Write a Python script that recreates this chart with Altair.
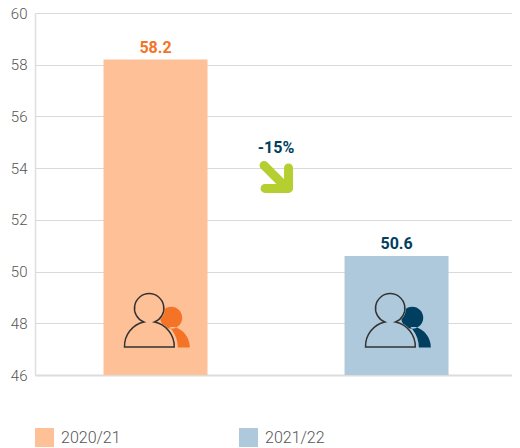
import altair as alt
import pandas as pd

periods = ["2020/21", "2021/22"]
values = [58.2, 50.6]
labels = ["58.2", "50.6"]
positions = [0.5, 1.5]
pale = ["#fdc097", "#aec9db"]
strong = ["#f47327", "#003f5f"]
y_ticks = [46, 48, 50, 52, 54, 56, 58, 60]
y_floor = 46
icon_level = 47.74
change_label = "-15%"
change_x = 1.0
change_label_y = 54.47
arrow_y = 53.66
x_end = 1.979

FRONT = "M-31,17A24.8,24.8 0 0 1 -11.7,-8A14.7,14.7 0 1 1 -1,-8A24.8,24.8 0 0 1 18.7,17Z"
BACK = ("M15.7,-23.3A11,11 0 1 1 15.7,-1.3A11,11 0 1 1 15.7,-23.3Z"
        "M22.3,17.5H34.3A21,21 0 0 0 19,-3L14,-3L16.4,0A28.3,28.3 0 0 1 22.3,17.5Z")
ARROW = "M-12,-11.5L10,10.5M12.5,-9V11.5H-11"

FONT = "Roboto"
df = pd.DataFrame({"period": periods, "value": values, "label": labels, "pos": positions,
                   "pale": pale, "strong": strong, "icon": [icon_level] * 2, "floor": [y_floor] * 2})
note = pd.DataFrame({"x": [change_x], "ly": [change_label_y], "ay": [arrow_y], "t": [change_label]})

xs = alt.Scale(domain=[0, x_end], padding=0, nice=False, zero=False)
ys = alt.Scale(domain=[46, 60], padding=0, nice=False, zero=False)
x = alt.X("pos:Q", scale=xs, axis=alt.Axis(
    title=None, labels=False, ticks=False, grid=False, domain=True,
    domainColor="#dcdcdc", domainWidth=2))
y = alt.Y("value:Q", scale=ys, axis=alt.Axis(
    title=None, values=y_ticks, ticks=False, grid=True, gridColor="#d9d9d9", gridWidth=1,
    domain=True, domainColor="#dedede", domainWidth=1.5, labelPadding=8, labelFont=FONT,
    labelFontSize=15, labelColor="#555555", labelFontWeight=300))
px = alt.X("pos:Q", scale=xs)
base = alt.Chart(df)

bars = base.mark_bar(size=104).encode(
    x=x, y=y, y2="floor:Q",
    color=alt.Color("period:N", scale=alt.Scale(domain=periods, range=pale), legend=alt.Legend(
        title=None, orient="none", legendX=0, legendY=415, direction="horizontal", columns=2,
        symbolType="square", symbolSize=361, symbolStrokeWidth=0, symbolOpacity=1,
        labelFont=FONT, labelFontSize=16, labelColor="#555555", labelFontWeight=300,
        columnPadding=118, labelOffset=7, padding=0)),
)
text = base.mark_text(font=FONT, fontSize=16, fontWeight="bold", baseline="bottom", dy=-4).encode(
    x=px, y=alt.Y("value:Q", scale=ys), text="label:N", color=alt.Color("strong:N", scale=None))
iy = alt.Y("icon:Q", scale=ys)
back = base.mark_point(shape=BACK, size=4, filled=True, opacity=1, strokeWidth=0).encode(
    x=px, y=iy, fill=alt.Fill("strong:N", scale=None))
halo = base.mark_point(shape=FRONT, size=4, filled=True, opacity=1, strokeWidth=2).encode(
    x=px, y=iy, fill=alt.Fill("pale:N", scale=None), stroke=alt.Stroke("pale:N", scale=None))
front = base.mark_point(shape=FRONT, size=4, filled=False, opacity=1, strokeWidth=1.5, color="#333333").encode(
    x=px, y=iy)
arrow = alt.Chart(note).mark_point(shape=ARROW, size=4, filled=False, opacity=1, strokeWidth=9,
                                   strokeCap="round", strokeJoin="round", color="#b4cf2f").encode(
    x=alt.X("x:Q", scale=xs), y=alt.Y("ay:Q", scale=ys))
change = alt.Chart(note).mark_text(font=FONT, fontSize=16, fontWeight="bold", baseline="bottom",
                                   color="#003f5f").encode(
    x=alt.X("x:Q", scale=xs), y=alt.Y("ly:Q", scale=ys), text="t:N")

chart = alt.layer(bars, text, back, halo, front, arrow, change).resolve_scale(
    color="independent", fill="independent", stroke="independent"
).properties(
    width=477, height=362,
    autosize=alt.AutoSizeParams(type="none"),
    padding={"left": 27, "top": 5, "right": 0, "bottom": 73},
).configure_view(stroke=None)

chart.save("out.html", embed_options={"renderer": "svg", "actions": False})
